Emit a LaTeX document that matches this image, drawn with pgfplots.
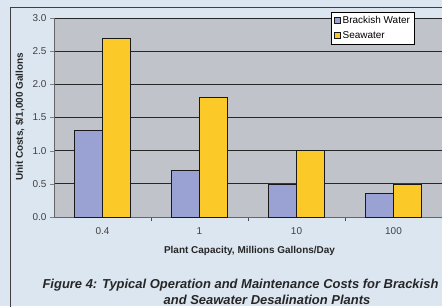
\documentclass[border=0pt]{standalone}
\usepackage{pgfplots}
\pgfplotsset{compat=1.18}
\usepackage{fontspec}
\setmainfont{Liberation Sans}
\definecolor{bgc}{HTML}{DCE6F1}
\definecolor{plotbg}{HTML}{C0C3C9}
\definecolor{brack}{HTML}{99A2D2}
\definecolor{sea}{HTML}{FCCA28}
\begin{document}
\begin{tikzpicture}[x=1bp,y=1bp]
\path[use as bounding box] (0,0) rectangle (442,306);
\clip (0,0) rectangle (442,306);
\fill[bgc] (0,0) rectangle (442,306);
\draw[black!75, line width=0.8bp] (10,-10) -- (10,299) -- (460,299);
\begin{axis}[
  at={(54bp,89bp)}, anchor=south west,
  scale only axis, width=388bp, height=199bp,
  ybar=0pt, bar width=28bp,
  xmin=-0.5, xmax=3.5, ymin=0, ymax=3,
  xtick={0,1,2,3}, xticklabels={0.4,1,10,100},
  minor xtick={0.5,1.5,2.5},
  major x tick style={draw=none},
  minor tick length=4bp,
  every minor tick/.style={black!70, line width=0.6bp},
  ytick={0,0.5,1,1.5,2,2.5,3},
  yticklabel style={/pgf/number format/.cd, fixed, fixed zerofill, precision=1},
  /pgf/number format/assume math mode=true,
  tick align=outside, major tick length=4bp,
  xtick pos=bottom, ytick pos=left,
  ymajorgrids, grid style={black!85, line width=0.7bp},
  axis background/.style={fill=plotbg},
  axis line style={black!60, line width=0.7bp},
  ticklabel style={font=\fontsize{10}{12}\selectfont, text=black!75},
  xticklabel style={yshift=-3bp},
  axis x line*=bottom, axis y line*=left,
  legend style={at={(0.928,1.03)}, anchor=north east, draw=black, fill=white,
    font=\fontsize{10}{11}\selectfont, inner sep=2bp, row sep=2.5bp,
    /tikz/every odd column/.style={column sep=0bp}},
  legend cell align=left,
  legend image code/.code={\draw[#1, fill] (0bp,-3bp) rectangle (6.5bp,3.5bp);},
]
\addplot[fill=brack, draw=black!90, line width=0.6bp] coordinates {(0,1.3) (1,0.7) (2,0.5) (3,0.35)};
\addplot[fill=sea, draw=black!90, line width=0.6bp] coordinates {(0,2.7) (1,1.8) (2,1.0) (3,0.5)};
\legend{Brackish Water, Seawater}
\end{axis}
\node[rotate=90, font=\bfseries\fontsize{10}{12}\selectfont, text=black!85] at (20,189) {Unit Costs, \$/1,000 Gallons};
\node[font=\bfseries\fontsize{10}{12}\selectfont, text=black!85] at (249.5,55) {Plant Capacity, Millions Gallons/Day};
\node[font=\bfseries\itshape\fontsize{13}{15}\selectfont, text=black!85] at (240.5,21) {Figure 4: Typical Operation and Maintenance Costs for Brackish};
\node[font=\bfseries\itshape\fontsize{13}{15}\selectfont, text=black!85, anchor=base, inner sep=0pt] at (267,1.5) {and Seawater Desalination Plants};
\end{tikzpicture}
\end{document}
